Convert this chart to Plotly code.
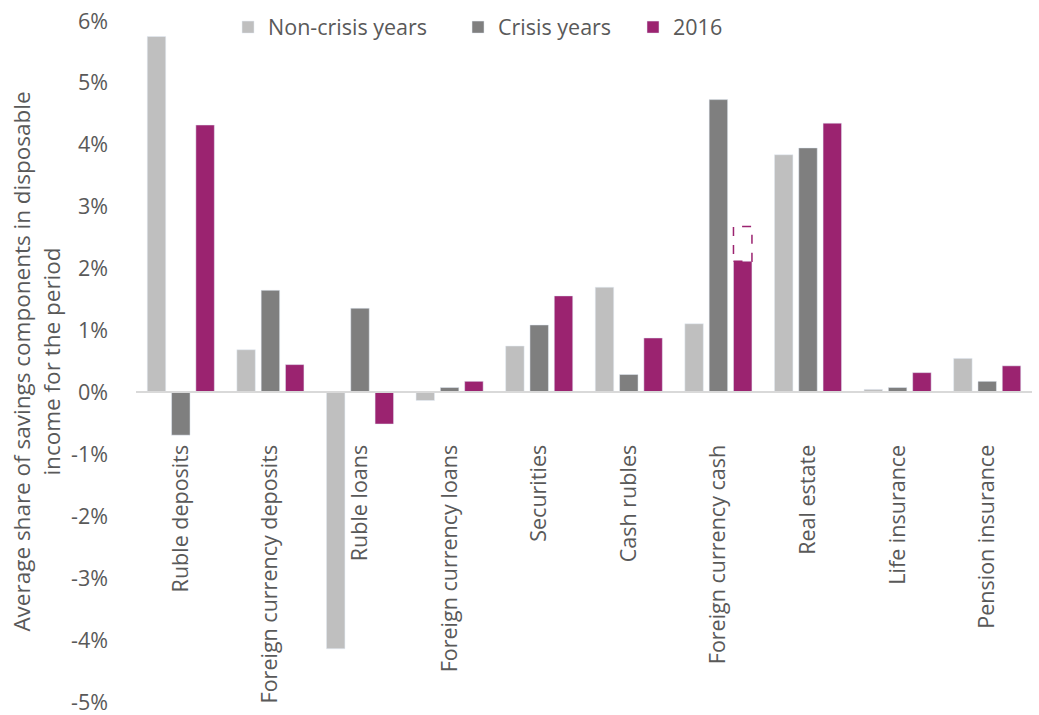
import plotly.graph_objects as go

categories = ["Ruble deposits", "Foreign currency deposits", "Ruble loans",
              "Foreign currency loans", "Securities", "Cash rubles",
              "Foreign currency cash", "Real estate", "Life insurance",
              "Pension insurance"]
non_crisis = [5.75, 0.69, -4.14, -0.13, 0.75, 1.70, 1.11, 3.84, 0.05, 0.55]
crisis = [-0.69, 1.65, 1.36, 0.08, 1.09, 0.29, 4.73, 3.95, 0.08, 0.18]
y2016 = [4.32, 0.45, -0.51, 0.18, 1.56, 0.88, 2.12, 4.35, 0.32, 0.43]
# dashed extension for foreign currency cash, 2016
dashed_category = "Foreign currency cash"
dashed_top = 2.68
y_ticks = [6, 5, 4, 3, 2, 1, 0, -1, -2, -3, -4, -5]
y_tick_labels = [f"{v}%" for v in y_ticks]

C_NON = "#BFBFBF"
C_CRI = "#7F7F7F"
C_16 = "#9B2370"
FONT = "Open Sans"
TXT = "#595959"

BARGAP = 0.186
GROUPGAP = 0.24

fig = go.Figure()
fig.add_bar(x=categories, y=non_crisis, name="Non-crisis years", marker_color=C_NON, legend="legend")
fig.add_bar(x=categories, y=crisis, name="Crisis years", marker_color=C_CRI, legend="legend2")
fig.add_bar(x=categories, y=y2016, name="2016", marker_color=C_16, legend="legend3")

# dashed box, placed at the 2016 bar slot of the category
idx = categories.index(dashed_category)
slot = (1 - BARGAP) / 3
center = idx + slot
half = slot * (1 - GROUPGAP) / 2
fig.add_shape(type="rect", xref="x", yref="y",
              x0=center - half, x1=center + half,
              y0=y2016[idx], y1=dashed_top,
              line=dict(color=C_16, width=1.5, dash="dash"),
              fillcolor="rgba(0,0,0,0)")

ymin, ymax = -5, 6
leg_common = dict(orientation="h", y=0.991, xanchor="left", yanchor="middle",
                  font=dict(size=21.5, color=TXT), bgcolor="rgba(0,0,0,0)")
fig.update_layout(
    width=1039, height=715,
    margin=dict(l=136, r=7, t=21, b=13),
    paper_bgcolor="white", plot_bgcolor="white",
    barmode="group", bargap=BARGAP, bargroupgap=GROUPGAP,
    font=dict(family=FONT, color=TXT, size=21),
    showlegend=True,
    legend=dict(x=0.1027, **leg_common),
    legend2=dict(x=0.3594, **leg_common),
    legend3=dict(x=0.5547, **leg_common),
    xaxis=dict(anchor="free", position=(0 - ymin) / (ymax - ymin),
               automargin=False,
               showline=True, linecolor="#D9D9D9", linewidth=1.5,
               tickangle=-90, ticks="", showgrid=False,
               ticklabelstandoff=43,
               tickfont=dict(size=21.5, color=TXT)),
    yaxis=dict(range=[ymin, ymax], tickvals=y_ticks, ticktext=y_tick_labels,
               automargin=False, ticklabeloverflow="allow",
               showgrid=False, zeroline=False, showline=False, ticks="",
               ticklabelstandoff=27,
               tickfont=dict(size=21.5, color=TXT),
               title=dict(text="Average share of savings components in disposable<br>income for the period",
                          font=dict(size=22.5, color=TXT), standoff=4)),
)

fig.write_html("out.html")
